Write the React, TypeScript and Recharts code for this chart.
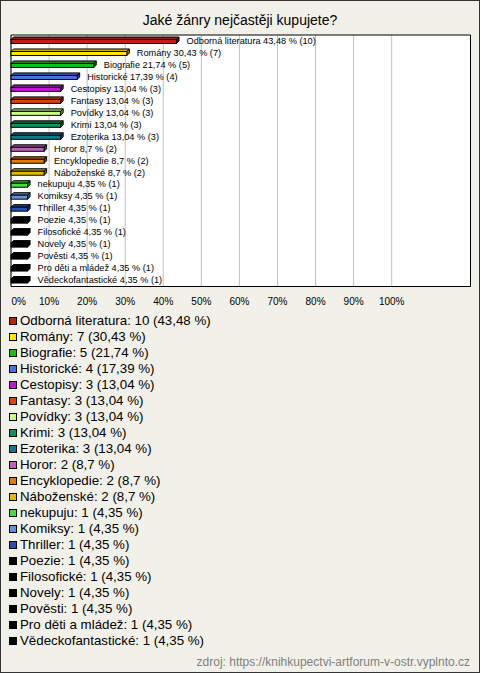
import React from 'react';
import { BarChart, Bar, XAxis, YAxis, CartesianGrid, ReferenceArea, LabelList } from 'recharts';

const genres = [
  'Odborná literatura', 'Romány', 'Biografie', 'Historické', 'Cestopisy', 'Fantasy', 'Povídky',
  'Krimi', 'Ezoterika', 'Horor', 'Encyklopedie', 'Náboženské', 'nekupuju', 'Komiksy', 'Thriller',
  'Poezie', 'Filosofické', 'Novely', 'Pověsti', 'Pro děti a mládež', 'Vědeckofantastické',
];
const counts = [10, 7, 5, 4, 3, 3, 3, 3, 3, 2, 2, 2, 1, 1, 1, 1, 1, 1, 1, 1, 1];
const percents = [43.48, 30.43, 21.74, 17.39, 13.04, 13.04, 13.04, 13.04, 13.04, 8.7, 8.7, 8.7,
  4.35, 4.35, 4.35, 4.35, 4.35, 4.35, 4.35, 4.35, 4.35];
const colors = [
  '#c0200c', '#ffe800', '#14c014', '#4a70f0', '#c414d8', '#e04010', '#c8ff80', '#109060',
  '#107890', '#c060c0', '#e87800', '#e8b800', '#40e040', '#6890e0', '#2850b0',
  '#000000', '#000000', '#000000', '#000000', '#000000', '#000000',
];
const xTicks = [0, 10, 20, 30, 40, 50, 60, 70, 80, 90, 100];

const fmt = (v: number) => String(v).replace('.', ',');

const data = genres.map((name, i) => ({
  name,
  value: percents[i],
  count: counts[i],
  color: colors[i],
  label: `${name} ${fmt(percents[i])} % (${counts[i]})`,
}));

const FONT = '"Liberation Sans", Arial, sans-serif';

function shade(hex: string, k: number) {
  const n = parseInt(hex.slice(1), 16);
  const r = Math.round(((n >> 16) & 255) * k);
  const g = Math.round(((n >> 8) & 255) * k);
  const b = Math.round((n & 255) * k);
  return `rgb(${r},${g},${b})`;
}

// flat 3D bar: front face + top + right side
const Bar3D = (props: any) => {
  const { x, y, width, height, payload } = props;
  const d = 2.5;
  const c = payload.color;
  const top = y + 1.5;
  const h = height - 1;
  return (
    <g stroke="#000" strokeWidth={1}>
      <polygon
        points={`${x},${top} ${x + d},${top - d} ${x + width + d},${top - d} ${x + width},${top}`}
        fill={shade(c, 0.8)}
      />
      <polygon
        points={`${x + width},${top} ${x + width + d},${top - d} ${x + width + d},${top + h - d} ${x + width},${top + h}`}
        fill={shade(c, 0.6)}
      />
      <rect x={x} y={top} width={width} height={h} fill={c} />
    </g>
  );
};

const PercentTick = (props: any) => {
  const { x, y, payload, index } = props;
  return (
    <text
      x={index === 0 ? x + 0.5 : x}
      y={y + 16}
      textAnchor={index === 0 ? 'start' : 'middle'}
      fontSize={10}
      fontFamily={FONT}
      fill="#000"
    >
      {payload.value}%
    </text>
  );
};

export default function App() {
  return (
    <div
      style={{
        position: 'absolute', left: 0, top: 0, width: 478, height: 671,
        border: '1px solid #333', background: '#f2f1e9', fontFamily: FONT, overflow: 'hidden',
      }}
    >
      <div style={{ position: 'absolute', top: 11, left: 0, width: 478, textAlign: 'center', fontSize: 14, lineHeight: '16px', color: '#000' }}>
        Jaké žánry nejčastěji kupujete?
      </div>
      <div style={{ position: 'absolute', left: -1, top: -1 }}>
        <BarChart
          width={480}
          height={310}
          data={data}
          layout="vertical"
          margin={{ top: 35, right: 9.5, bottom: 3.5, left: 11 }}
        >
          <CartesianGrid horizontal={false} stroke="#c0c0c0" fill="#ffffff" />
          <XAxis
            type="number"
            domain={[0, 120.7]}
            ticks={xTicks}
            interval={0}
            axisLine={false}
            tickLine={false}
            tickSize={0}
            height={20}
            tick={<PercentTick />}
          />
          <YAxis type="category" dataKey="name" hide />
          <Bar dataKey="value" barSize={5} shape={<Bar3D />} isAnimationActive={false}>
            <LabelList dataKey="label" position="right" offset={10} fontSize={9.2} fontFamily={FONT} fill="#000" />
          </Bar>
          <ReferenceArea x1={0} x2={120.7} fill="none" stroke="#000" strokeWidth={1} ifOverflow="extendDomain" />
        </BarChart>
      </div>
      <div style={{ position: 'absolute', top: 312, left: 8 }}>
        {data.map((d) => (
          <div key={d.name} style={{ height: 16, lineHeight: '16px', fontSize: 13.3, color: '#000', whiteSpace: 'nowrap', display: 'flex', alignItems: 'center' }}>
            <span style={{ display: 'inline-block', width: 6, height: 6, border: '1px solid #000', background: d.color, marginRight: 3 }} />
            {`${d.name}: ${d.count} (${fmt(d.value)} %)`}
          </div>
        ))}
      </div>
      <div style={{ position: 'absolute', right: 9, top: 653, fontSize: 12, lineHeight: '16px', color: '#808080' }}>
        zdroj: https://knihkupectvi-artforum-v-ostr.vyplnto.cz
      </div>
    </div>
  );
}
